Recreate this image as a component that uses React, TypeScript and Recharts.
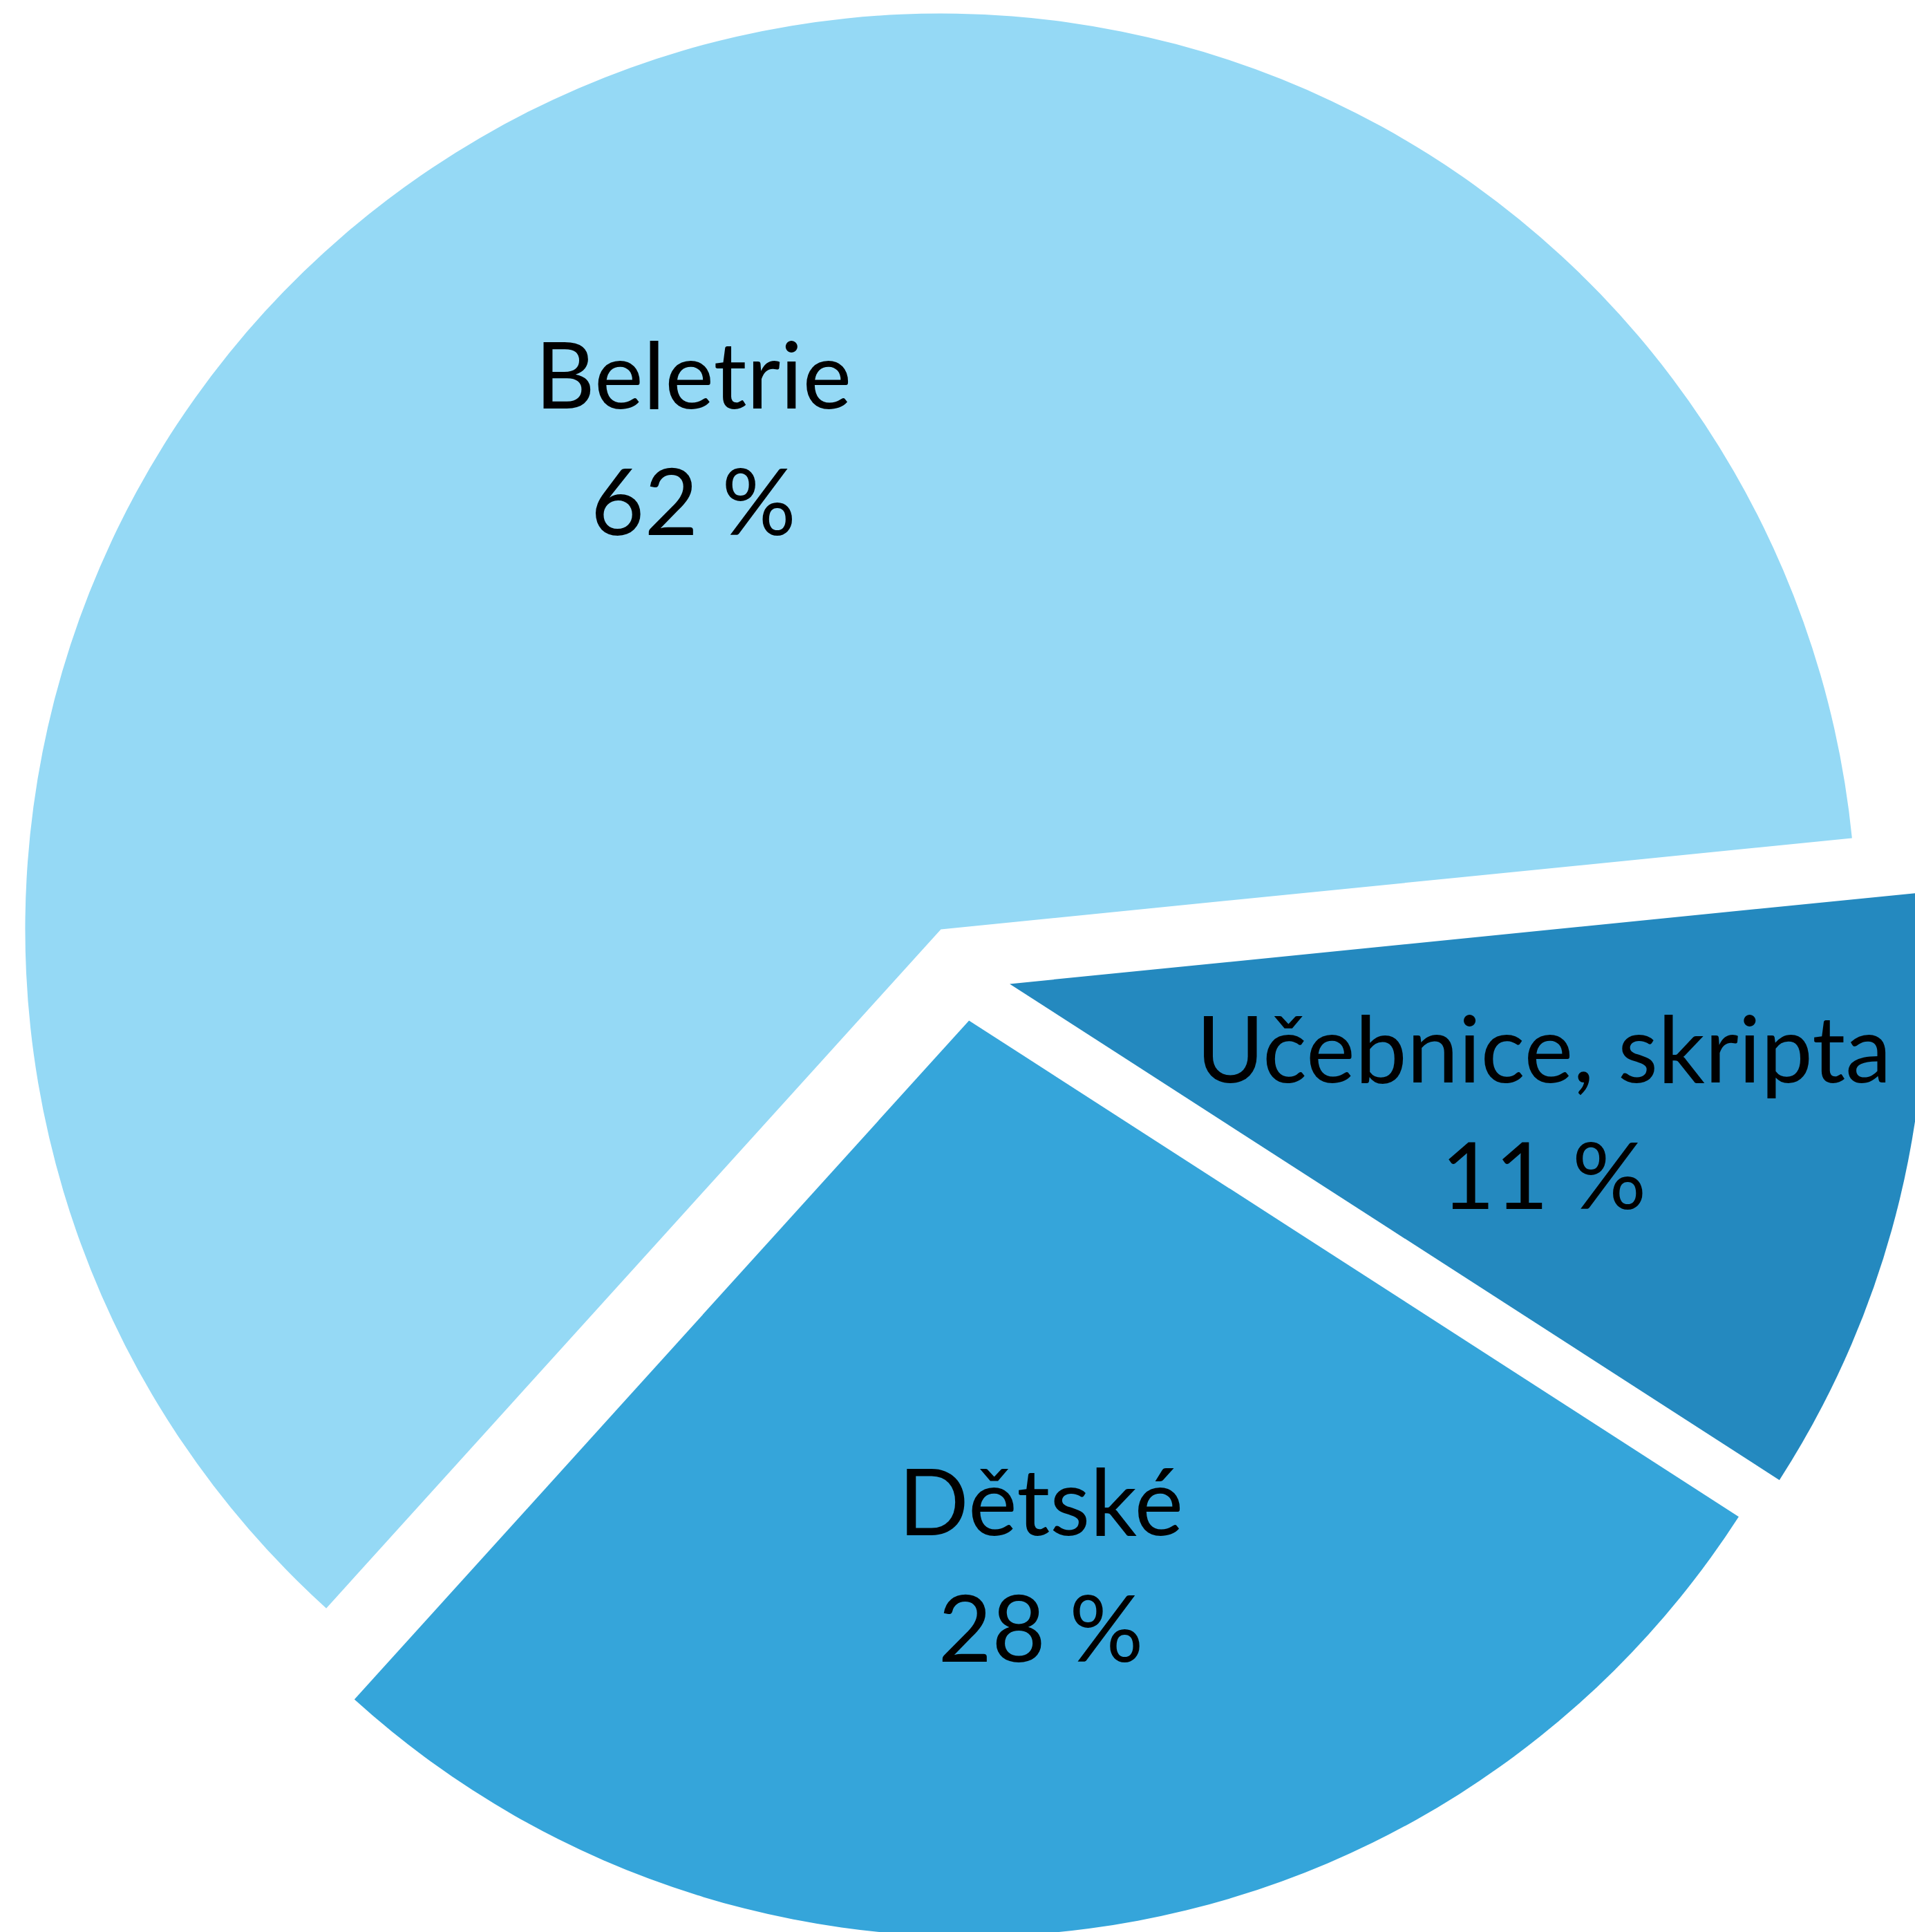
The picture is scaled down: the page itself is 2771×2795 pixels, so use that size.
import { PieChart, Pie, Cell } from "recharts";

const categories = ["Beletrie", "Dětské", "Učebnice, skripta"];
const shares = [61.7, 27.6, 10.7];
const colors = ["#95D9F5", "#35A5DA", "#2489BF"];

const data = categories.map((name, i) => ({ name, value: shares[i] }));

const W = 2771;
const H = 2795;
const CX = 1393;
const CY = 1407;
const R = 1325;
const EXPLODE = 70;
const START = 5.72;
const RAD = Math.PI / 180;

// mid angle of each slice, so every slice can be pushed out along it
const total = shares.reduce((a, b) => a + b, 0);
const mids = shares.map((v, i) => {
  const before = shares.slice(0, i).reduce((a, b) => a + b, 0);
  return START + ((before + v / 2) / total) * 360;
});

function makeLabel(idx: number) {
  return (p: any) => {
    const name = p.name ?? p.payload?.name;
    if (name !== categories[idx]) return null;
    const r = p.outerRadius * 0.6;
    const x = p.cx + r * Math.cos(-p.midAngle * RAD);
    const y = p.cy + r * Math.sin(-p.midAngle * RAD);
    return (
      <text
        x={x}
        y={y}
        textAnchor="middle"
        fill="#000"
        fontFamily="Lato, 'Noto Sans', sans-serif"
        fontSize={134}
      >
        <tspan x={x} y={y - 44}>
          {name}
        </tspan>
        <tspan x={x} y={y + 139}>
          {Math.round(p.percent * 100)} %
        </tspan>
      </text>
    );
  };
}

export default function App() {
  return (
    <div
      style={{
        position: "absolute",
        left: 0,
        top: 0,
        width: W,
        height: H,
        background: "#fff",
        overflow: "hidden",
      }}
    >
      <PieChart width={W} height={H} margin={{ top: 0, right: 0, bottom: 0, left: 0 }}>
        {categories.map((cat, i) => (
          <Pie
            key={cat}
            data={data}
            dataKey="value"
            nameKey="name"
            cx={CX + EXPLODE * Math.cos(-mids[i] * RAD)}
            cy={CY + EXPLODE * Math.sin(-mids[i] * RAD)}
            outerRadius={R}
            innerRadius={0}
            startAngle={START}
            endAngle={START + 360}
            stroke="none"
            labelLine={false}
            label={makeLabel(i)}
            isAnimationActive={false}
          >
            {data.map((d, j) => (
              <Cell key={d.name} fill={j === i ? colors[j] : "transparent"} />
            ))}
          </Pie>
        ))}
      </PieChart>
    </div>
  );
}
